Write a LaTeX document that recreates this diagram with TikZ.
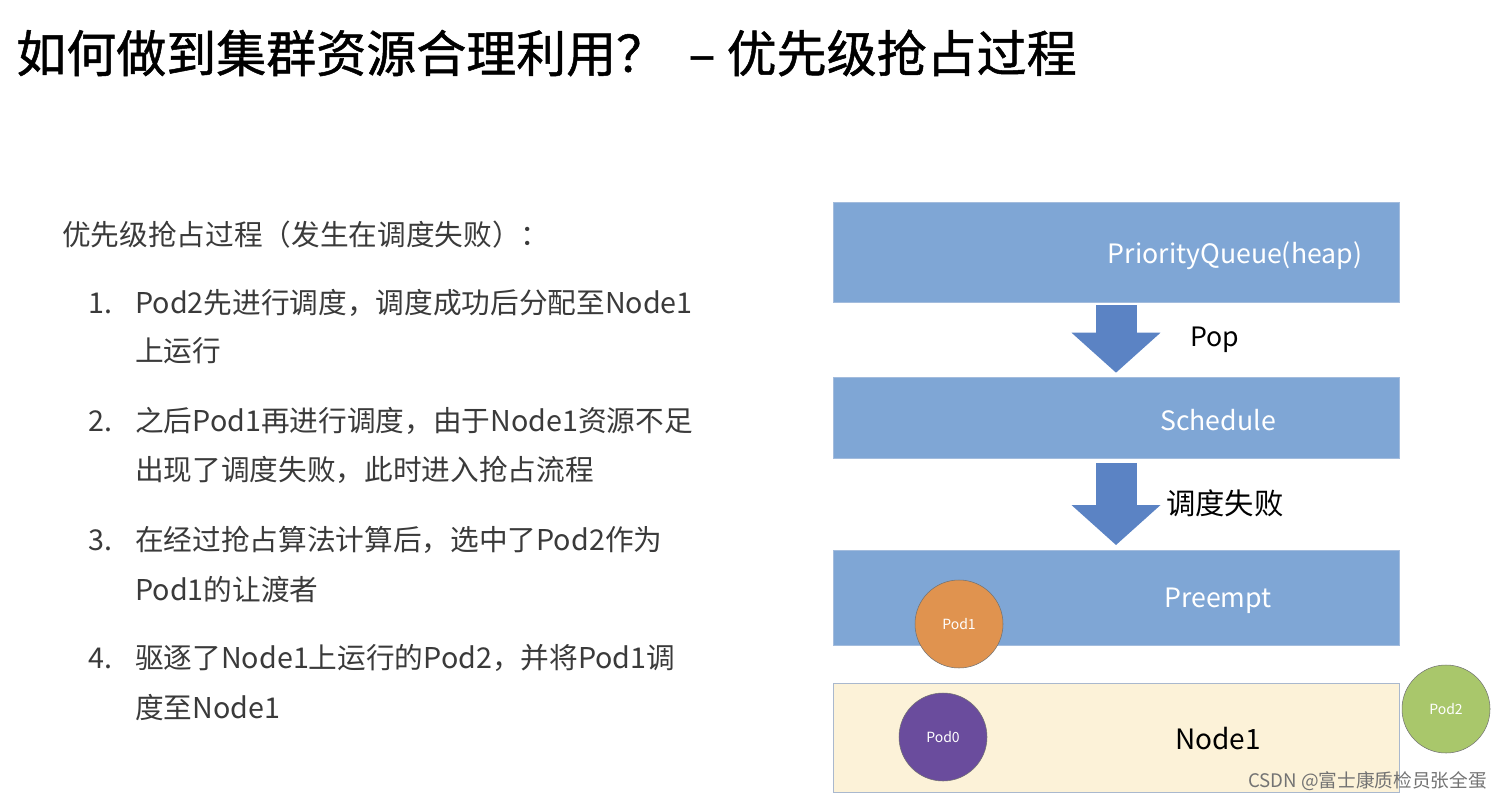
\documentclass[tikz,border=0pt]{standalone}
\usepackage{fontspec}
\setmainfont{Noto Sans CJK SC}
\newfontfamily\titlefont{Noto Sans CJK SC}[FakeBold=1]
\usepackage{tikz}
\usetikzlibrary{arrows.meta}
\usepackage{xcolor}
\definecolor{boxblue}{HTML}{7FA6D5}
\definecolor{boxedge}{HTML}{A3BCDD}
\definecolor{flowblue}{HTML}{5B83C4}
\definecolor{nodefill}{HTML}{FCF2D8}
\definecolor{nodeedge}{HTML}{A9B8CE}
\definecolor{podorange}{HTML}{E0934F}
\definecolor{podpurple}{HTML}{6A4C9D}
\definecolor{podgreen}{HTML}{A9C76B}
\definecolor{bodygray}{HTML}{3A3A3A}

\begin{document}
\begin{tikzpicture}[x=0.75pt,y=-0.75pt]
\tikzset{>={Triangle[width=65pt,length=30pt]}}
\tikzstyle{stage}=[rectangle,draw=boxedge,fill=boxblue,minimum width=424.5pt,inner sep=0pt]
\tikzstyle{stagetxt}=[text=white,font=\fontsize{20}{24}\selectfont,inner sep=0pt]
\tikzstyle{pod}=[circle,draw=black!55,minimum size=66pt,inner sep=0pt,text=white,font=\fontsize{10.5}{12}\selectfont]
\tikzstyle{line}=[anchor=west,inner sep=0pt,text=bodygray,font=\fontsize{21.5}{26}\selectfont,text height=16pt,text depth=4pt]
\tikzstyle{flow}=[->,draw=flowblue,line width=30.75pt]
\useasboundingbox (0,0) rectangle (1501,802);

\node[anchor=west,inner sep=0pt,font=\fontsize{37.5}{44}\titlefont](title) at (16,53) {如何做到集群资源合理利用？\ \ – 优先级抢占过程};

\node[line](intro) at (62,237) {优先级抢占过程（发生在调度失败）：};
\node[line](n1) at (88,305) {1.};
\node[line](t1a) at (135,305) {Pod2先进行调度，调度成功后分配至Node1};
\node[line](t1b) at (135,353) {上运行};
\node[line](n2) at (88,423) {2.};
\node[line](t2a) at (135,423) {之后Pod1再进行调度，由于Node1资源不足};
\node[line](t2b) at (135,472) {出现了调度失败，此时进入抢占流程};
\node[line](n3) at (88,542) {3.};
\node[line](t3a) at (135,542) {在经过抢占算法计算后，选中了Pod2作为};
\node[line](t3b) at (135,592) {Pod1的让渡者};
\node[line](n4) at (88,660) {4.};
\node[line](t4a) at (135,660) {驱逐了Node1上运行的Pod2，并将Pod1调};
\node[line](t4b) at (135,710) {度至Node1};

\node[stage,minimum height=75pt](pq) at (1116,252) {};
\node[stagetxt](pqtxt) at (1235,256) {PriorityQueue(heap)};
\node[stage,minimum height=60.75pt](sched) at (1116,417.5) {};
\node[stagetxt](schedtxt) at (1218,420) {Schedule};
\node[stage,minimum height=71.25pt](preempt) at (1116,597.5) {};
\node[stagetxt](preempttxt) at (1218,601) {Preempt};
\node[rectangle,draw=nodeedge,fill=nodefill,minimum width=424.5pt,minimum height=81.75pt,inner sep=0pt](node1) at (1116,737.5) {};
\node[inner sep=0pt,font=\fontsize{21}{25}\selectfont](node1txt) at (1218,739) {Node1};

\draw [flow] ([yshift=-2.25pt]pq.south) -- ([yshift=3pt]sched.north);
\draw [flow] ([yshift=-3.5pt]sched.south) -- ([yshift=3.5pt]preempt.north);
\node[anchor=west,inner sep=0pt,font=\fontsize{20}{24}\selectfont](pop) at (1190,340) {Pop};
\node[anchor=west,inner sep=0pt,font=\fontsize{22}{26}\selectfont](fail) at (1166,503) {调度失败};

\node[pod,fill=podorange](pod1) at (959,624) {Pod1};
\node[pod,fill=podpurple](pod0) at (943,737) {Pod0};
\node[pod,fill=podgreen](pod2) at (1446,709) {Pod2};

\node[anchor=east,inner sep=0pt,text=black!55,font=\fontsize{14}{16}\selectfont](mark) at (1487,781) {CSDN @富士康质检员张全蛋};
\end{tikzpicture}
\end{document}
